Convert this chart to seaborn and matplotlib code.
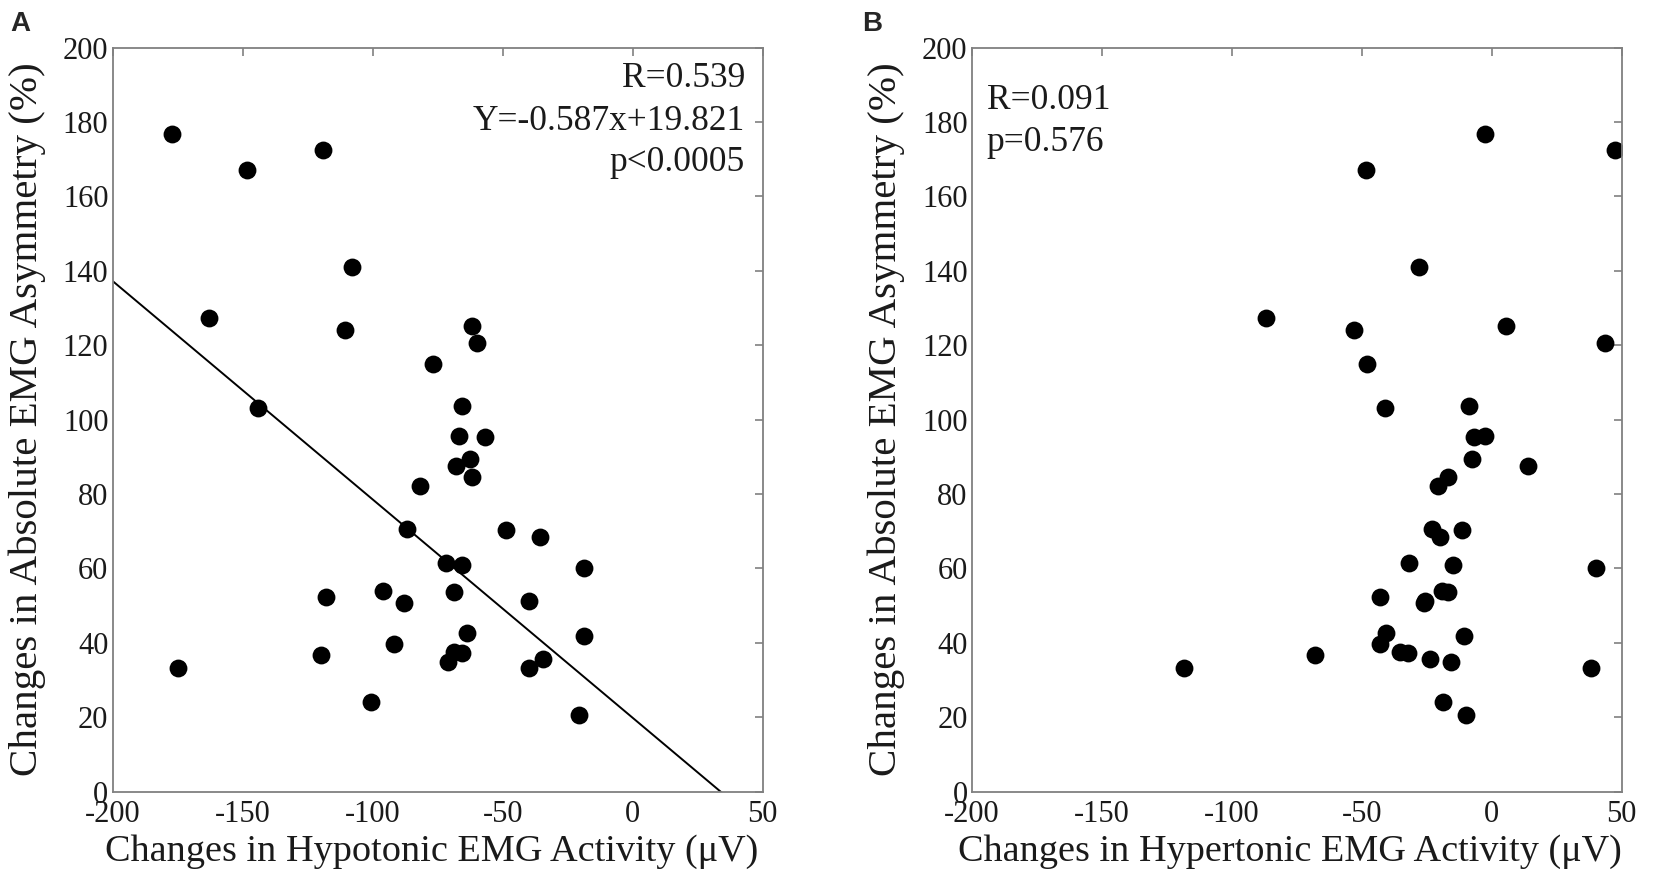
import numpy as np
import pandas as pd
import seaborn as sns
import matplotlib.pyplot as plt

# asymmetry changes (%) shared by both panels, one value per subject
asymmetry = [176.7, 172.4, 167.1, 141.1, 127.2, 125.2, 124.1, 120.5, 114.9, 103.5,
             103.0, 95.5, 95.3, 89.3, 87.4, 84.6, 82.0, 70.5, 70.2, 68.4,
             61.4, 60.8, 60.0, 53.8, 53.7, 52.2, 51.2, 50.6, 42.7, 41.8,
             39.6, 37.4, 37.2, 36.8, 35.6, 34.9, 33.2, 33.1, 24.1, 20.6]
# changes in hypotonic EMG activity (uV), panel A
hypotonic = [-177.0, -119.2, -148.2, -108.1, -163.0, -61.7, -110.7, -59.8, -76.7, -65.7,
             -144.0, -66.7, -56.7, -62.7, -68.0, -61.8, -81.8, -86.9, -48.7, -35.7,
             -71.8, -65.5, -18.6, -95.9, -68.7, -118.0, -39.8, -87.8, -63.8, -18.6,
             -91.8, -68.7, -65.5, -119.9, -34.6, -70.9, -175.0, -39.8, -100.8, -20.7]
# changes in hypertonic EMG activity (uV), panel B
hypertonic = [-2.7, 47.5, -48.3, -28.0, -86.9, 5.6, -52.8, 43.4, -47.8, -8.7,
              -40.9, -2.6, -6.7, -7.6, 13.8, -16.7, -20.8, -22.8, -11.5, -19.8,
              -31.8, -14.8, 40.2, -19.2, -16.7, -42.8, -25.5, -26.0, -40.7, -10.5,
              -42.8, -35.3, -32.1, -68.0, -23.7, -15.8, 38.2, -118.2, -18.8, -9.8]

# regression reported in panel A
slope_a = -0.587
intercept_a = 19.821
text_a = ["R=0.539", "Y=-0.587x+19.821", "p<0.0005"]
text_b = ["R=0.091", "p=0.576"]

x_ticks = [-200, -150, -100, -50, 0, 50]
y_ticks = [0, 20, 40, 60, 80, 100, 120, 140, 160, 180, 200]

df = pd.DataFrame({"asym": asymmetry, "hypo": hypotonic, "hyper": hypertonic})

sns.set_theme(style="white")
plt.rcParams['font.family'] = ['Liberation Serif', 'DejaVu Serif']

fig = plt.figure(figsize=(16.54, 8.83), dpi=100)
ax_a = fig.add_axes([0.0681, 0.1036, 0.393, 0.8426])
ax_b = fig.add_axes([0.5875, 0.1036, 0.393, 0.8426])

gray = '#808080'
ink = '#1a1a1a'


def style_axes(ax, xlabel):
    ax.set_xlim(x_ticks[0], x_ticks[-1])
    ax.set_ylim(y_ticks[0], y_ticks[-1])
    ax.set_xticks(x_ticks)
    ax.set_xticklabels([str(t) for t in x_ticks])
    ax.set_yticks(y_ticks)
    ax.set_yticklabels([str(t) for t in y_ticks])
    ax.tick_params(direction='in', top=True, right=True, length=6, width=1.2,
                   color=gray, labelsize=22, labelcolor=ink)
    ax.tick_params(axis='x', pad=6)
    ax.tick_params(axis='y', pad=3)
    for sp in ax.spines.values():
        sp.set_color(gray)
        sp.set_linewidth(1.3)
    ax.set_xlabel(xlabel, fontsize=27.5, color=ink)
    ax.set_ylabel("Changes in Absolute EMG Asymmetry (%)", fontsize=29.5, color=ink)
    ax.xaxis.set_label_coords(0.49, -0.057)
    ax.yaxis.set_label_coords(-0.103, 0.5)


# panel A
sns.scatterplot(data=df, x="hypo", y="asym", color='black', s=165, linewidth=0, ax=ax_a)
line_x = np.array([x_ticks[0], x_ticks[-1]], dtype=float)
sns.lineplot(x=line_x, y=slope_a * line_x + intercept_a, color='black', linewidth=1.4, ax=ax_a)
style_axes(ax_a, "Changes in Hypotonic EMG Activity (\u03bcV)")
for txt, yy in zip(text_a, [0.947, 0.889, 0.834]):
    ax_a.text(0.973, yy, txt, transform=ax_a.transAxes, ha='right', va='baseline',
              fontsize=25.5, color=ink)

# panel B
sns.scatterplot(data=df, x="hyper", y="asym", color='black', s=165, linewidth=0, ax=ax_b)
style_axes(ax_b, "Changes in Hypertonic EMG Activity (\u03bcV)")
for txt, yy in zip(text_b, [0.917, 0.861]):
    ax_b.text(0.023, yy, txt, transform=ax_b.transAxes, ha='left', va='baseline',
              fontsize=25.5, color=ink)

fig.text(0.006, 0.988, "A", fontsize=20, fontweight='bold', va='top', ha='left',
         family=['Liberation Sans', 'DejaVu Sans'])
fig.text(0.5210, 0.988, "B", fontsize=20, fontweight='bold', va='top', ha='left',
         family=['Liberation Sans', 'DejaVu Sans'])

fig.savefig("out.png", dpi=100)
